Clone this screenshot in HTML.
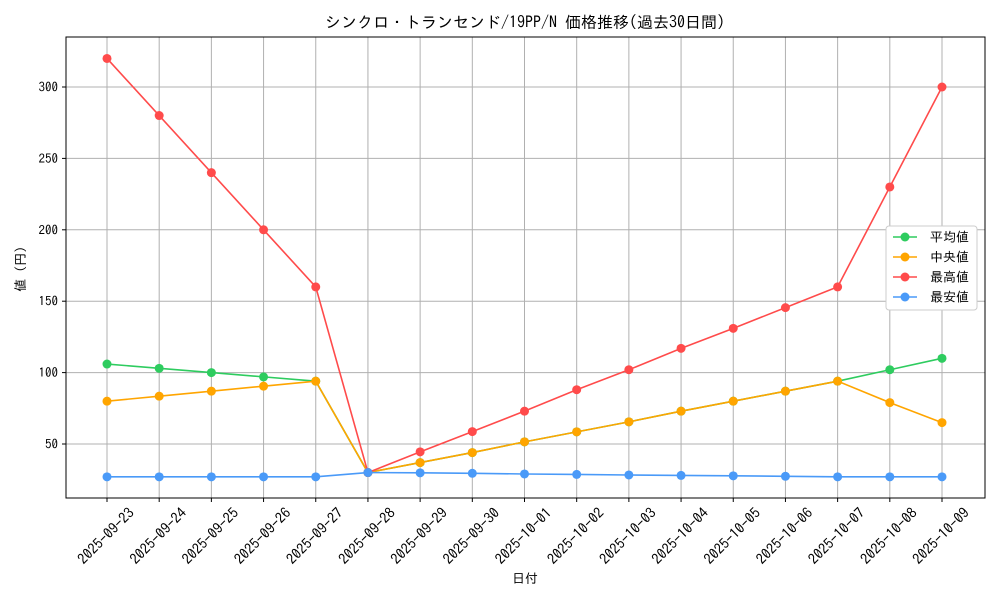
<!DOCTYPE html>
<html><head><meta charset="utf-8"><style>
body{margin:0;background:#fff;}
svg text{font-family:"IPAGothic","Noto Sans CJK JP",monospace;}
</style></head><body>
<svg id="c" width="1000" height="600"></svg>
<script>
const categories=["2025-09-23","2025-09-24","2025-09-25","2025-09-26","2025-09-27","2025-09-28","2025-09-29","2025-09-30","2025-10-01","2025-10-02","2025-10-03","2025-10-04","2025-10-05","2025-10-06","2025-10-07","2025-10-08","2025-10-09"];
const avgValues=[106,103,100,97,94,30,37,44,51.5,58.5,65.5,73,80,87,94,102,110];
const medianValues=[80,83.5,87,90.5,94,30,37,44,51.5,58.5,65.5,73,80,87,94,79,65];
const maxValues=[320,280,240,200,160,30,44.5,58.7,73,88,102,117,131,145.5,160,230,300];
const minValues=[27,27,27,27,27,30,29.8,29.5,29,28.7,28.3,28,27.7,27.4,27,27,27];
const yTicks=[50,100,150,200,250,300];
const seriesNames=["平均値","中央値","最高値","最安値"];
const NS="http://www.w3.org/2000/svg";
const svg=document.getElementById('c');
const L=66,R=985,T=37,B=498;
const xs=i=>107+i*(942-107)/(categories.length-1);
const ys=v=>444-(v-50)*357/250;
function mk(t,a,p){const e=document.createElementNS(NS,t);for(const k in a)e.setAttribute(k,a[k]);(p||svg).appendChild(e);return e;}
const grid=mk('g',{});


categories.forEach((c,i)=>{
 const x=xs(i);
 mk('line',{x1:x,x2:x,y1:T,y2:B,stroke:'#b0b0b0','stroke-width':1},grid);
 mk('line',{x1:x,x2:x,y1:B,y2:B+4,stroke:'#000'});
 const t=mk('text',{x:0,y:5,'font-size':14.5,'text-anchor':'middle',transform:`translate(${x-1},${B+38}) rotate(-45)`});
 t.textContent=c;
 
 
});
yTicks.forEach(v=>{
 const y=ys(v);
 mk('line',{x1:L,x2:R,y1:y,y2:y,stroke:'#b0b0b0','stroke-width':1},grid);
 mk('line',{x1:L-4,x2:L,y1:y,y2:y,stroke:'#000'});
 const t=mk('text',{x:L-8,y:y+4.5,'font-size':13,'text-anchor':'end'});
 t.textContent=v;
 
 
});
const frame=mk('rect',{x:L,y:T,width:R-L,height:B-T,fill:'none',stroke:'#000','stroke-width':1});


const series=[[avgValues,'#2ecc5f'],[medianValues,'#ffa500'],[maxValues,'#ff4b4b'],[minValues,'#4a9af8']];
series.forEach(([vals,col],si)=>{
 const g=mk('g',{});
 
 
 mk('polyline',{points:vals.map((v,i)=>xs(i)+','+ys(v)).join(' '),fill:'none',stroke:col,'stroke-width':1.6},g);
 vals.forEach((v,i)=>{const c=mk('circle',{cx:xs(i),cy:ys(v),r:4.5,fill:col},g);
  
  });
});
const lg=mk('g',{});


mk('rect',{x:886,y:226,width:91,height:84,fill:'#fff',stroke:'#ccc',rx:3},lg);
seriesNames.forEach((n,i)=>{
 const y=237+i*20;
 mk('line',{x1:893,x2:917,y1:y,y2:y,stroke:series[i][1],'stroke-width':1.6},lg);
 mk('circle',{cx:905,cy:y,r:4.5,fill:series[i][1]},lg);
 const t=mk('text',{x:930,y:y+4.5,'font-size':13},lg);t.textContent=n;
 
 
});
const ti=mk('text',{x:525,y:28,'font-size':16,'text-anchor':'middle'});ti.textContent='シンクロ・トランセンド/19PP/N 価格推移(過去30日間)';


const xl=mk('text',{x:525,y:583,'font-size':13,'text-anchor':'middle'});xl.textContent='日付';


const yl=mk('text',{x:0,y:0,'font-size':13,'text-anchor':'middle',transform:'translate(25,269) rotate(-90)'});yl.textContent='値 (円)';


</script>
</body></html>
